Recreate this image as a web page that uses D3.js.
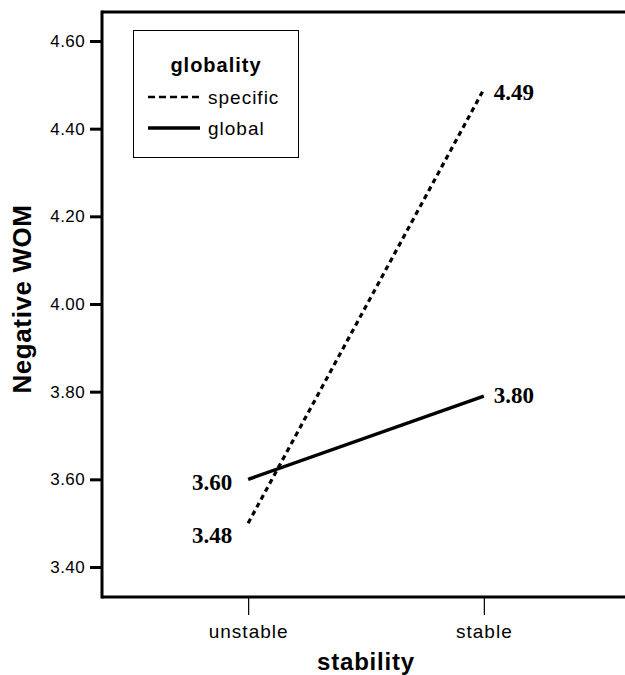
<!DOCTYPE html>
<html>
<head>
<meta charset="utf-8">
<script src="https://cdn.jsdelivr.net/npm/d3@7/dist/d3.min.js"></script>
<style>
  html, body { margin: 0; padding: 0; background: #fff; }
  svg { display: block; }
</style>
</head>
<body>
<svg id="chart" width="625" height="675"></svg>
<script>
// ---- data ----
const categories = ["unstable", "stable"];
const seriesNames = ["specific", "global"];
const specificMeans = [3.50, 4.49];   // plotted positions
const globalMeans = [3.60, 3.79];
const specificLabels = [3.48, 4.49];  // printed value labels
const globalLabels = [3.60, 3.80];
const yTicks = [3.40, 3.60, 3.80, 4.00, 4.20, 4.40, 4.60];
const xTitle = "stability";
const yTitle = "Negative WOM";
const legendTitle = "globality";

// ---- layout ----
const W = 625, H = 675;
const frameLeft = 102, frameRight = 630, frameTop = 12, frameBottom = 597;

const svg = d3.select("#chart");

const x = d3.scalePoint().domain(categories).range([frameLeft, frameRight]).padding(0.62);
const y = d3.scaleLinear().domain([3.40, 4.60]).range([567, 41]);

// frame: top and bottom lines, left axis
svg.append("line").attr("x1", frameLeft).attr("x2", W).attr("y1", frameTop).attr("y2", frameTop)
  .attr("stroke", "#000").attr("stroke-width", 3);

// y axis
const yAxis = d3.axisLeft(y).tickValues(yTicks).tickFormat(d3.format(".2f")).tickSize(12).tickPadding(5);
const gy = svg.append("g").attr("transform", `translate(${frameLeft},0)`).call(yAxis);
gy.select(".domain").remove();
gy.selectAll(".tick line").attr("stroke", "#000").attr("stroke-width", 3);
gy.selectAll(".tick text")
  .attr("font-family", "'Liberation Sans', Arial, sans-serif")
  .attr("font-size", 17).attr("letter-spacing", 0.4).attr("fill", "#000");
svg.append("line").attr("x1", frameLeft).attr("x2", frameLeft).attr("y1", frameTop - 1.5).attr("y2", frameBottom + 1.5)
  .attr("stroke", "#000").attr("stroke-width", 3);

// x axis
const xAxis = d3.axisBottom(x).tickSize(18).tickPadding(10);
const gx = svg.append("g").attr("transform", `translate(0,${frameBottom})`).call(xAxis);
gx.select(".domain").remove();
gx.selectAll(".tick line").attr("stroke", "#000").attr("stroke-width", 1.2);
gx.selectAll(".tick text")
  .attr("font-family", "'Liberation Sans', Arial, sans-serif")
  .attr("font-size", 19).attr("letter-spacing", 1).attr("fill", "#000");
svg.append("line").attr("x1", frameLeft).attr("x2", W).attr("y1", frameBottom).attr("y2", frameBottom)
  .attr("stroke", "#000").attr("stroke-width", 3);

// titles
svg.append("text").attr("x", 366).attr("y", 670).attr("text-anchor", "middle")
  .attr("font-family", "'Liberation Sans', Arial, sans-serif").attr("font-weight", "bold")
  .attr("font-size", 24).attr("letter-spacing", 0.8).text(xTitle);
svg.append("text").attr("transform", "translate(31,299) rotate(-90)").attr("text-anchor", "middle")
  .attr("font-family", "'Liberation Sans', Arial, sans-serif").attr("font-weight", "bold")
  .attr("font-size", 26).attr("letter-spacing", 0.6).text(yTitle);

// lines
const line = d3.line().x((d, i) => x(categories[i])).y(d => y(d));
svg.append("path").datum(specificMeans).attr("d", line).attr("fill", "none")
  .attr("stroke", "#000").attr("stroke-width", 3.2).attr("stroke-dasharray", "5,4");
svg.append("path").datum(globalMeans).attr("d", line).attr("fill", "none")
  .attr("stroke", "#000").attr("stroke-width", 3.5);

// value labels
const labelFont = "'Liberation Serif', 'Times New Roman', serif";
function addLabels(vals) {
  vals.forEach((v, i) => {
    const left = i === 0;
    svg.append("text")
      .attr("x", left ? x(categories[i]) - 16 : x(categories[i]) + 10)
      .attr("y", y(v) + 3)
      .attr("dy", "0.35em")
      .attr("text-anchor", left ? "end" : "start")
      .attr("font-family", labelFont).attr("font-weight", "bold").attr("font-size", 23)
      .text(d3.format(".2f")(v));
  });
}
addLabels(specificLabels);
addLabels(globalLabels);

// legend
const lg = svg.append("g");
lg.append("rect").attr("x", 133.5).attr("y", 30.5).attr("width", 165).attr("height", 127)
  .attr("fill", "#fff").attr("stroke", "#000").attr("stroke-width", 1);
lg.append("text").attr("x", 216).attr("y", 72).attr("text-anchor", "middle")
  .attr("font-family", "'Liberation Sans', Arial, sans-serif").attr("font-weight", "bold")
  .attr("font-size", 20).attr("letter-spacing", 1).text(legendTitle);
const legendY = [97, 128];
seriesNames.forEach((name, i) => {
  lg.append("line").attr("x1", 148).attr("x2", 200).attr("y1", legendY[i]).attr("y2", legendY[i])
    .attr("stroke", "#000").attr("stroke-width", i === 0 ? 2.5 : 3.5)
    .attr("stroke-dasharray", i === 0 ? "7,4" : null);
  lg.append("text").attr("x", 208).attr("y", legendY[i] + 7)
    .attr("font-family", "'Liberation Sans', Arial, sans-serif")
    .attr("font-size", 19).attr("letter-spacing", 1).text(name);
});
</script>
</body>
</html>
